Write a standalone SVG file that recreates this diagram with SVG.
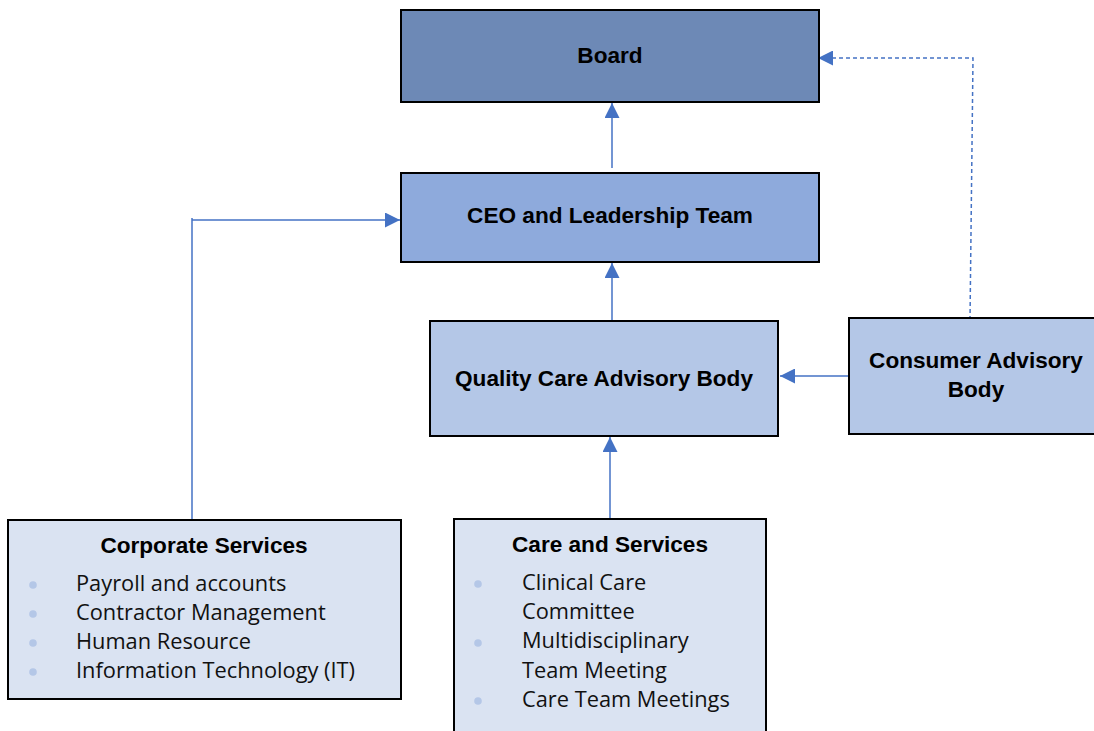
<svg xmlns="http://www.w3.org/2000/svg" width="1094" height="731" viewBox="0 0 1094 731">
  <style>
    .box { stroke: #000000; stroke-width: 2; }
    .board { fill: #6d89b6; }
    .ceo { fill: #8eaadc; }
    .mid { fill: #b4c7e7; }
    .light { fill: #dae3f2; }
    .title { font-family: "Liberation Sans", Arial, sans-serif; font-weight: bold; font-size: 22.6px; fill: #000000; text-anchor: middle; }
    .item { font-family: "Open Sans", "Liberation Sans", sans-serif; font-size: 21.8px; fill: #111111; }
    .dot { fill: #b4c7e7; }
    .link { fill: none; stroke: #4472c4; stroke-width: 1.5; }
    .dash { stroke-dasharray: 4 3; }
  </style>
  <defs>
    <marker id="arrow" viewBox="0 0 15 15" refX="15" refY="7.5" markerWidth="15" markerHeight="15" markerUnits="userSpaceOnUse" orient="auto">
      <path d="M0,0 L15,7.5 L0,15 Z" fill="#4472c4"/>
    </marker>
  </defs>

  <rect width="1094" height="731" fill="#ffffff"/>

  <g id="connectors">
    <!-- CEO to Board -->
    <path class="link" d="M612,168 L612,103" marker-end="url(#arrow)"/>
    <!-- Quality to CEO -->
    <path class="link" d="M612,320 L612,263" marker-end="url(#arrow)"/>
    <!-- Care to Quality -->
    <path class="link" d="M610,519 L610,437" marker-end="url(#arrow)"/>
    <!-- Consumer to Quality -->
    <path class="link" d="M849,376 L780,376" marker-end="url(#arrow)"/>
    <!-- Corporate to CEO -->
    <path class="link" d="M192,519 L192,218"/>
    <path class="link" d="M192,220 L400,220" marker-end="url(#arrow)"/>
    <!-- Consumer to Board (dashed) -->
    <path class="link dash" d="M970,320 L973,58 L818,58" marker-end="url(#arrow)"/>
  </g>

  <g id="board">
    <rect class="box board" x="401" y="10" width="418" height="92"/>
    <text class="title" x="610" y="63">Board</text>
  </g>

  <g id="ceo">
    <rect class="box ceo" x="401" y="173" width="418" height="89"/>
    <text class="title" x="610" y="223">CEO and Leadership Team</text>
  </g>

  <g id="quality">
    <rect class="box mid" x="430" y="321" width="348" height="115"/>
    <text class="title" x="604" y="386">Quality Care Advisory Body</text>
  </g>

  <g id="consumer">
    <rect class="box mid" x="849" y="318" width="250" height="116"/>
    <text class="title" x="976" y="368">Consumer Advisory</text>
    <text class="title" x="976" y="397">Body</text>
  </g>

  <g id="corporate">
    <rect class="box light" x="8" y="520" width="393" height="179"/>
    <text class="title" x="204" y="553">Corporate Services</text>
    <circle class="dot" cx="33" cy="585" r="3.8"/>
    <circle class="dot" cx="33" cy="614" r="3.8"/>
    <circle class="dot" cx="33" cy="643" r="3.8"/>
    <circle class="dot" cx="33" cy="672" r="3.8"/>
    <text class="item" x="76" y="591">Payroll and accounts</text>
    <text class="item" x="76" y="620">Contractor Management</text>
    <text class="item" x="76" y="649">Human Resource</text>
    <text class="item" x="76" y="678">Information Technology (IT)</text>
  </g>

  <g id="care">
    <rect class="box light" x="454" y="519" width="312" height="220"/>
    <text class="title" x="610" y="552">Care and Services</text>
    <circle class="dot" cx="478" cy="584" r="3.8"/>
    <circle class="dot" cx="478" cy="643" r="3.8"/>
    <circle class="dot" cx="478" cy="701" r="3.8"/>
    <text class="item" x="522" y="590">Clinical Care</text>
    <text class="item" x="522" y="619">Committee</text>
    <text class="item" x="522" y="648">Multidisciplinary</text>
    <text class="item" x="522" y="678">Team Meeting</text>
    <text class="item" x="522" y="707">Care Team Meetings</text>
  </g>
</svg>
